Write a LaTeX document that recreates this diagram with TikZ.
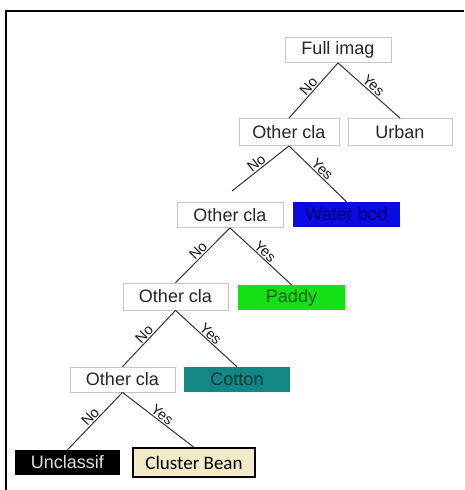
\documentclass[tikz,border=0pt]{standalone}
\usepackage{fontspec}
\setmainfont{Liberation Sans}
\newfontfamily\calib{Carlito}
\definecolor{wblue}{RGB}{10,10,225}
\definecolor{wbluetext}{RGB}{0,0,110}
\definecolor{pgreen}{RGB}{20,225,20}
\definecolor{pgreentext}{RGB}{20,90,20}
\definecolor{cteal}{RGB}{18,135,132}
\definecolor{ctealtext}{RGB}{10,55,55}
\definecolor{cream}{RGB}{243,234,200}
\begin{document}
\begin{tikzpicture}[x=1pt,y=-1pt,
  box/.style={inner sep=0pt, minimum height=25pt, font=\fontsize{18}{20}\selectfont, text=black!85},
  wbox/.style={box, draw=black!22, line width=0.8pt, fill=white},
  edge/.style={draw=black!80, line width=1pt},
  lab/.style={sloped, above, inner sep=1pt, font=\fontsize{14.5}{15}\selectfont, text=black!90}]
\useasboundingbox (0,0) rectangle (464,490);
\fill[white] (0,0) rectangle (464,490);
\draw[line width=2.2pt] (6,490) -- (6,11) -- (464,11);

\node[wbox, minimum width=106pt] (full) at (338,50) {Full imag};
\node[wbox, minimum width=100pt, minimum height=27pt] (oc1) at (289,132) {Other cla};
\node[wbox, minimum width=104pt, minimum height=27pt] (urban) at (400,132) {Urban};
\node[wbox, minimum width=106pt] (oc2) at (230,215) {Other cla};
\node[box, fill=wblue, text=wbluetext, minimum width=107pt] (water) at (346.5,214.5) {Water bod};
\node[wbox, minimum width=105pt, minimum height=27pt] (oc3) at (175.5,296.5) {Other cla};
\node[box, fill=pgreen, text=pgreentext, minimum width=107pt] (paddy) at (291.5,297.5) {Paddy};
\node[wbox, minimum width=105pt] (oc4) at (122.5,379.5) {Other cla};
\node[box, fill=cteal, text=ctealtext, minimum width=106pt] (cotton) at (237,379.5) {Cotton};
\node[box, fill=black, text=black!12, minimum width=105pt] (uncl) at (67.5,462.5) {Unclassif};
\node[box, draw=black, line width=1.3pt, fill=cream, text=black, minimum width=122pt, minimum height=29pt, font=\calib\fontsize{19}{21}\selectfont] (cluster) at (194,462.5) {Cluster Bean};

\coordinate (c2) at (232,191);

\draw[edge] (oc1.north) -- node[lab]{No} (full.south);
\draw[edge] (full.south) -- node[lab]{Yes} (urban.north);
\draw[edge] (c2) -- node[lab]{No} (oc1.south);
\draw[edge] (oc1.south) -- node[lab]{Yes} (water.north);
\draw[edge] (oc3.north) -- node[lab]{No} (oc2.south);
\draw[edge] (oc2.south) -- node[lab]{Yes} (paddy.north);
\draw[edge] (oc4.north) -- node[lab]{No} (oc3.south);
\draw[edge] (oc3.south) -- node[lab]{Yes} (cotton.north);
\draw[edge] (uncl.north) -- node[lab]{No} (oc4.south);
\draw[edge] (oc4.south) -- node[lab]{Yes} (cluster.north);
\end{tikzpicture}
\end{document}
